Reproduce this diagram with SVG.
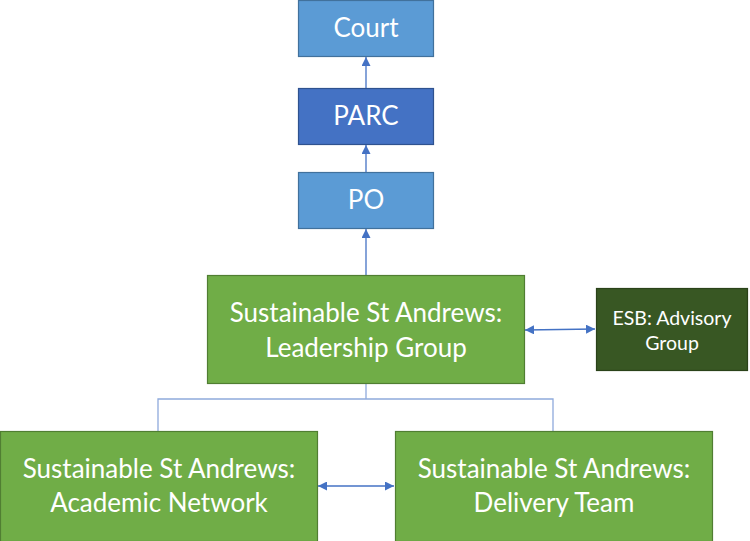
<svg xmlns="http://www.w3.org/2000/svg" width="750" height="541" viewBox="0 0 750 541">
<defs>
<style>
.t{font-family:Lato,"Open Sans",sans-serif;fill:#fff;text-anchor:middle}
.b{stroke-width:1.2}
.blue{fill:#5B9BD5;stroke:#41719C}
.dblue{fill:#4472C4;stroke:#2F528F}
.green{fill:#70AD47;stroke:#507E32}
.dgreen{fill:#385723;stroke:#2A4219}
.a{stroke:#4472C4;stroke-width:1.3;fill:none}
.tr{stroke:#8FAADC;stroke-width:1.3;fill:none}
</style>
<marker id="ah" viewBox="0 0 10 10" refX="10" refY="5" markerWidth="9" markerHeight="9" orient="auto-start-reverse" markerUnits="userSpaceOnUse">
<path d="M0,0 L10,5 L0,10 z" fill="#4472C4"/>
</marker>
</defs>
<g id="connectors">
<line class="a" x1="366" y1="88" x2="366" y2="57" marker-end="url(#ah)"/>
<line class="a" x1="366" y1="172" x2="366" y2="145" marker-end="url(#ah)"/>
<line class="a" x1="366" y1="275" x2="366" y2="229" marker-end="url(#ah)"/>
<line class="a" x1="525" y1="330" x2="595" y2="329" marker-start="url(#ah)" marker-end="url(#ah)"/>
<line class="a" x1="318" y1="486" x2="394" y2="486" marker-start="url(#ah)" marker-end="url(#ah)"/>
<path class="tr" d="M366,384 V399 M158,431 V399 H553 V431"/>
</g>
<g id="court"><rect class="b blue" x="298.5" y="0.5" width="135" height="56"/><text class="t" x="366" y="37" font-size="26">Court</text></g>
<g id="parc"><rect class="b dblue" x="298.5" y="88.5" width="135" height="56"/><text class="t" x="366" y="125" font-size="26">PARC</text></g>
<g id="po"><rect class="b blue" x="298.5" y="172.5" width="135" height="56"/><text class="t" x="366" y="209" font-size="26">PO</text></g>
<g id="leadership"><rect class="b green" x="207.5" y="275.5" width="317" height="108"/><text class="t" x="366" y="322" font-size="26">Sustainable St Andrews:</text><text class="t" x="366" y="357" font-size="26">Leadership Group</text></g>
<g id="esb"><rect class="b dgreen" x="596.5" y="288.5" width="151" height="82"/><text class="t" x="672" y="325" font-size="19.5">ESB: Advisory</text><text class="t" x="672" y="350" font-size="19.5">Group</text></g>
<g id="academic"><rect class="b green" x="0.5" y="431.5" width="317" height="110"/><text class="t" x="159" y="478" font-size="26">Sustainable St Andrews:</text><text class="t" x="159" y="512" font-size="26">Academic Network</text></g>
<g id="delivery"><rect class="b green" x="395.5" y="431.5" width="317" height="110"/><text class="t" x="554" y="478" font-size="26">Sustainable St Andrews:</text><text class="t" x="554" y="512" font-size="26">Delivery Team</text></g>
</svg>
